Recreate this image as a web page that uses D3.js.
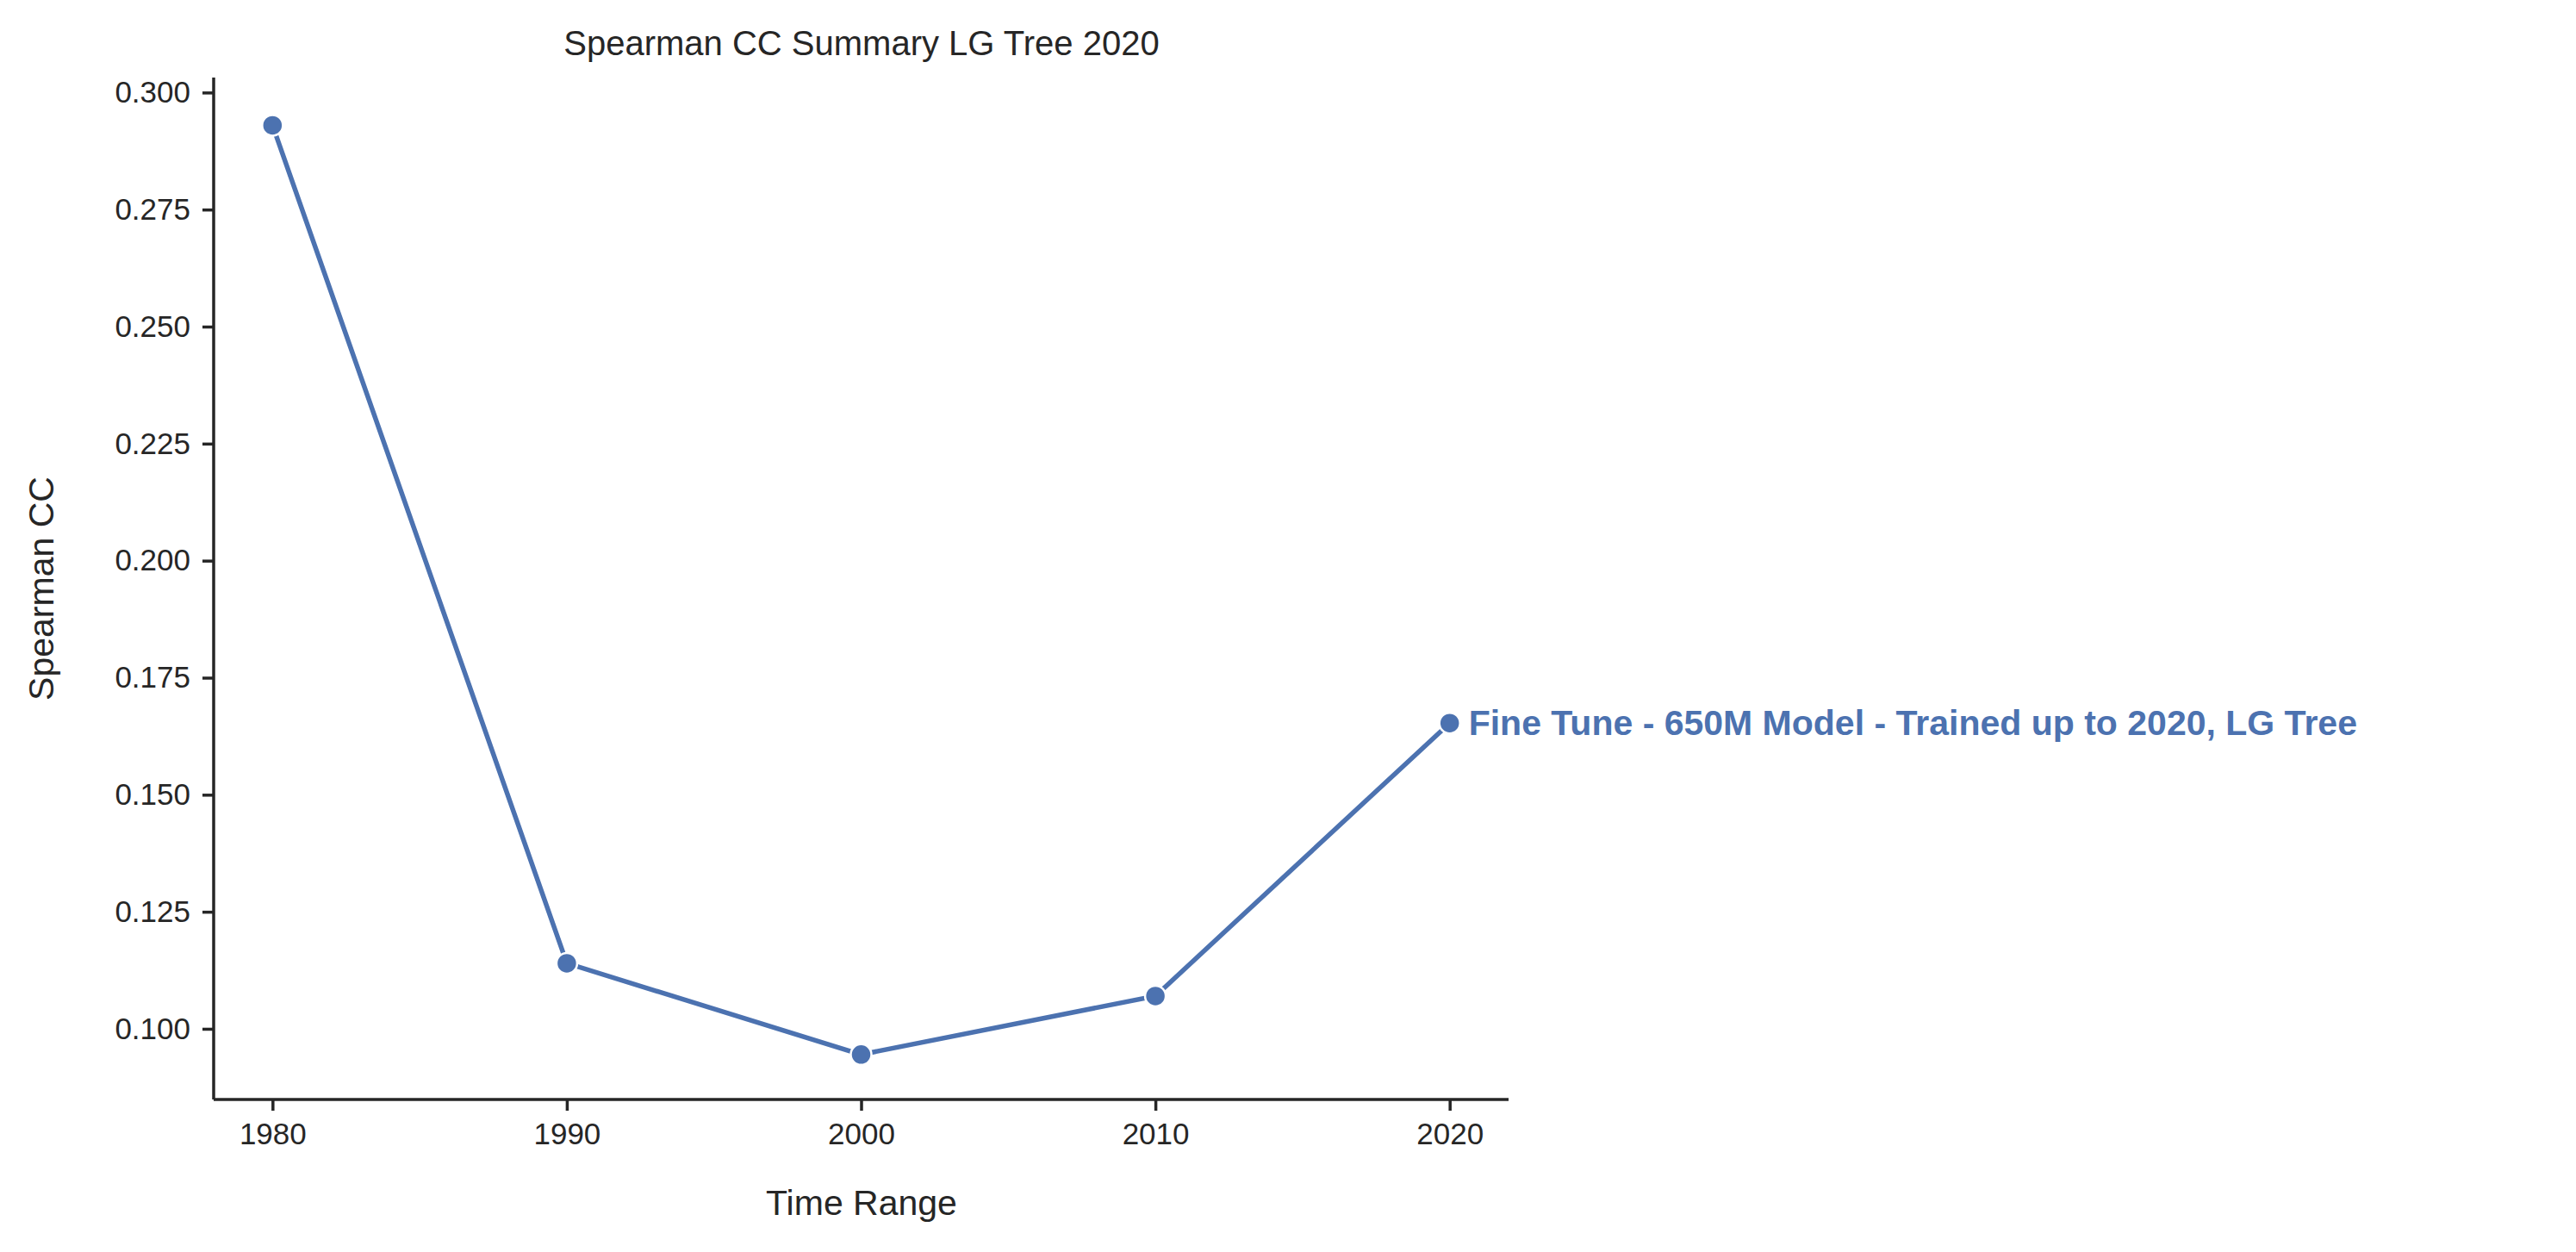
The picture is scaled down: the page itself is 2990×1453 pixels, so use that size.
<!DOCTYPE html>
<html>
<head>
<meta charset="UTF-8" />
<script src="https://d3js.org/d3.v7.min.js"></script>
<style>
  body { margin: 0; background: white; font-family: "Liberation Sans", Arial, sans-serif; }
  .axis text { font-size: 35px; fill: #262626; font-family: "Liberation Sans", Arial, sans-serif; }
  .axis line { stroke: #262626; stroke-width: 3.5px; }
  .axis path { display: none; }
</style>
</head>
<body>
<svg id="chart" width="2990" height="1453"></svg>
<script>
const years = [1980, 1990, 2000, 2010, 2020];
const spearman = [0.293, 0.114, 0.0945, 0.107, 0.1653];
const yTicks = [0.100, 0.125, 0.150, 0.175, 0.200, 0.225, 0.250, 0.275, 0.300];
const seriesLabel = "Fine Tune - 650M Model - Trained up to 2020, LG Tree";
const blue = "#4c72b0";

const svg = d3.select("#chart");
const x = d3.scaleLinear().domain([1978, 2022]).range([248, 1751]);
const y = d3.scaleLinear().domain([0.0849, 0.3032]).range([1276, 90]);

svg.append("g").attr("class", "axis")
  .attr("transform", "translate(0,1276)")
  .call(d3.axisBottom(x).tickValues(years).tickFormat(d3.format("d")).tickSizeOuter(0).tickSize(13).tickPadding(14));

svg.append("g").attr("class", "axis")
  .attr("transform", "translate(248,0)")
  .call(d3.axisLeft(y).tickValues(yTicks).tickFormat(d3.format(".3f")).tickSizeOuter(0).tickSize(13).tickPadding(14));

// spines
svg.append("line").attr("x1", 248).attr("x2", 1751).attr("y1", 1276).attr("y2", 1276)
  .attr("stroke", "#262626").attr("stroke-width", 3.5);
svg.append("line").attr("x1", 248).attr("x2", 248).attr("y1", 90).attr("y2", 1276)
  .attr("stroke", "#262626").attr("stroke-width", 3.5);

const pts = years.map((yr, i) => [yr, spearman[i]]);

svg.append("path")
  .datum(pts)
  .attr("fill", "none")
  .attr("stroke", blue)
  .attr("stroke-width", 5.5)
  .attr("d", d3.line().x(d => x(d[0])).y(d => y(d[1])));

svg.selectAll("circle.pt").data(pts).enter().append("circle")
  .attr("class", "pt")
  .attr("cx", d => x(d[0])).attr("cy", d => y(d[1]))
  .attr("r", 12)
  .attr("fill", blue).attr("stroke", "white").attr("stroke-width", 2.5);

const last = pts[pts.length - 1];
svg.append("text")
  .attr("x", x(last[0]) + 22).attr("y", y(last[1]) + 14)
  .attr("fill", blue).attr("font-weight", "bold").attr("font-size", 41)
  .text(seriesLabel);

svg.append("text").attr("x", 1000).attr("y", 64).attr("text-anchor", "middle")
  .attr("font-size", 40).attr("fill", "#262626").text("Spearman CC Summary LG Tree 2020");

svg.append("text").attr("x", 1000).attr("y", 1410).attr("text-anchor", "middle")
  .attr("font-size", 41).attr("fill", "#262626").text("Time Range");

svg.append("text").attr("transform", "translate(62,683) rotate(-90)").attr("text-anchor", "middle")
  .attr("font-size", 41).attr("fill", "#262626").text("Spearman CC");
</script>
</body>
</html>
